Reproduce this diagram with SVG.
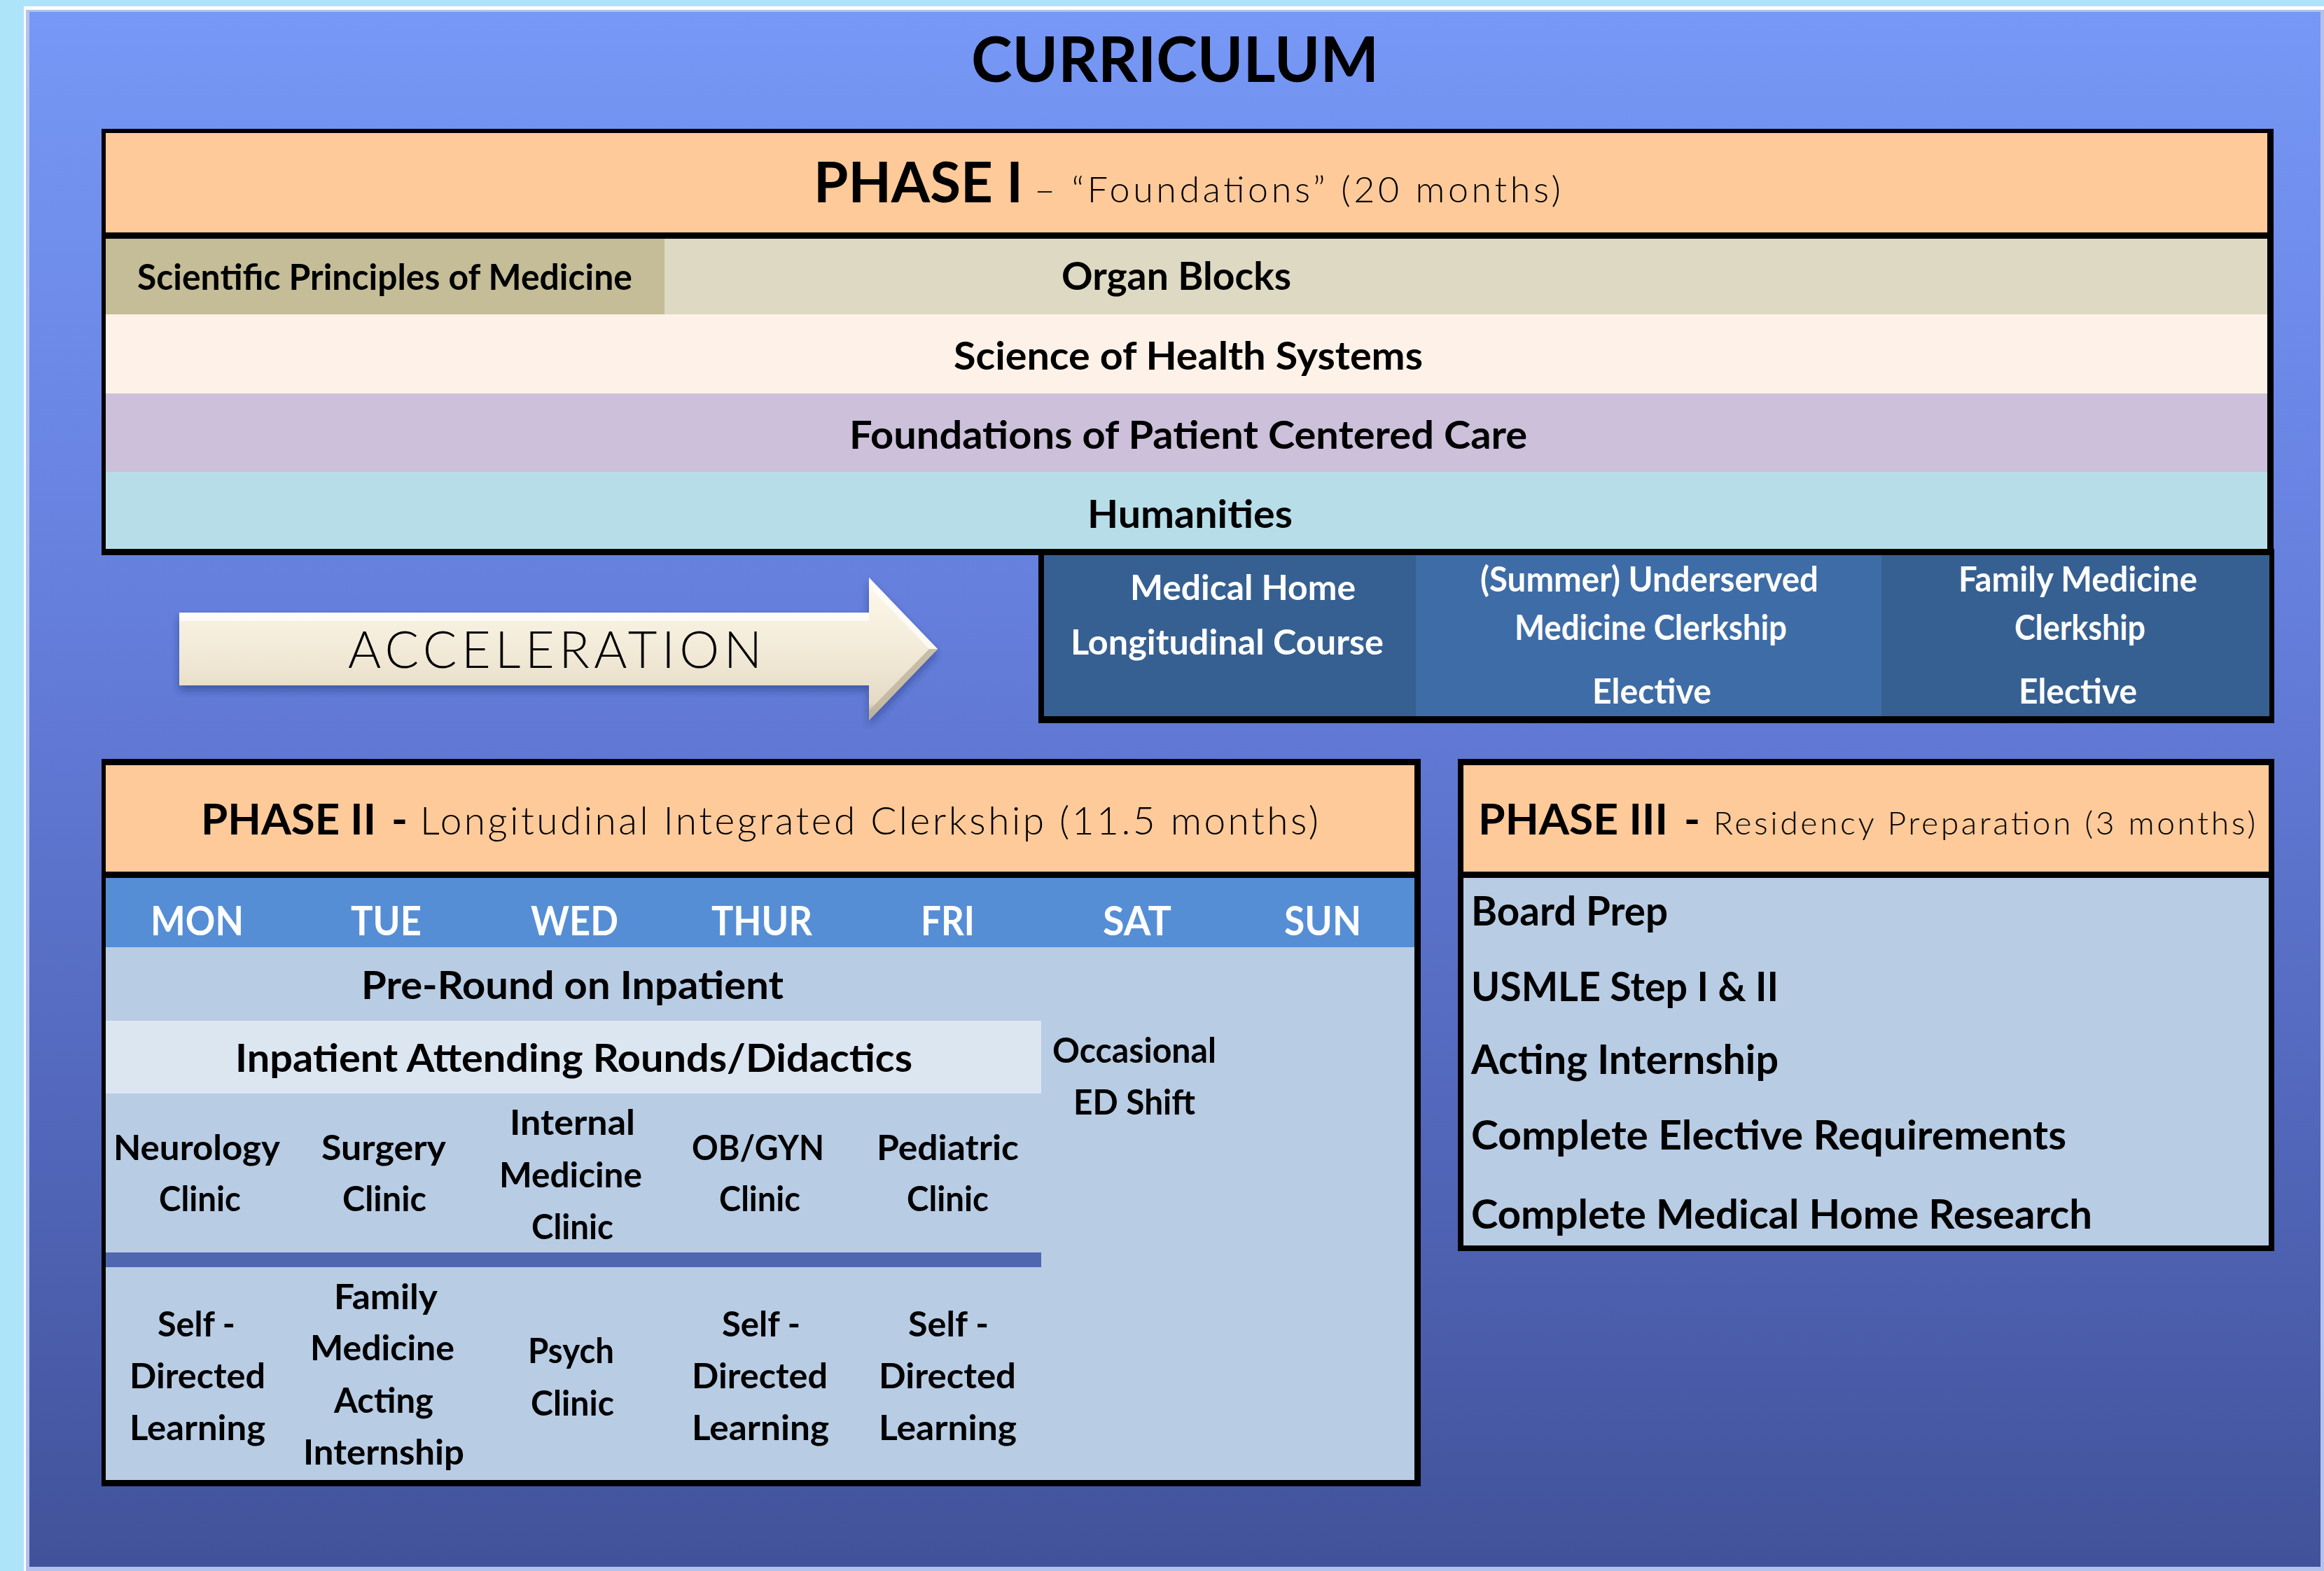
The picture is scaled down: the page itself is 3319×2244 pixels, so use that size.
<svg xmlns="http://www.w3.org/2000/svg" width="3319" height="2244" viewBox="0 0 3319 2244">
  <style>
    .b { font-family: Lato, "Open Sans", "DejaVu Sans", sans-serif; font-weight: 700; fill: #000; }
    .l { font-family: Lato, "Open Sans", "DejaVu Sans", sans-serif; font-weight: 300; fill: #000; }
    .w { fill: #FFFFFF; }
    .hdr { fill: #FFCA9A; }
    .body { fill: #B8CCE4; }
    .frame { fill: #000000; }
  </style>
  <defs>
    <linearGradient id="bgGrad" x1="0" y1="0" x2="0" y2="1">
      <stop offset="0" stop-color="#7798F6"/>
      <stop offset="0.35" stop-color="#6781DF"/>
      <stop offset="0.65" stop-color="#566CC2"/>
      <stop offset="1" stop-color="#42529A"/>
    </linearGradient>
    <linearGradient id="arrowGrad" x1="0" y1="0" x2="0" y2="1">
      <stop offset="0" stop-color="#FFFFFF"/>
      <stop offset="0.12" stop-color="#FCF6E8"/>
      <stop offset="0.55" stop-color="#F1E9D6"/>
      <stop offset="0.88" stop-color="#E4DAC5"/>
      <stop offset="1" stop-color="#A89F8A"/>
    </linearGradient>
    <filter id="shadow" x="-5%" y="-20%" width="115%" height="150%">
      <feDropShadow dx="0" dy="7" stdDeviation="6" flood-color="#1B2A66" flood-opacity="0.45"/>
    </filter>
  </defs>

  <!-- page backdrop and framed panel -->
  <rect x="0" y="0" width="3319" height="2244" fill="#ADE4FA"/>
  <rect x="34" y="9" width="3285" height="2235" fill="#FFFFFF"/>
  <rect x="37" y="14" width="3282" height="2230" fill="#B3C2EC"/>
  <rect x="42" y="17" width="3272" height="2221" fill="url(#bgGrad)"/>

  <g id="title">
    <text class="b" x="1387" y="117" font-size="89" textLength="582" lengthAdjust="spacingAndGlyphs">CURRICULUM</text>
  </g>

  <!-- Phase I block -->
  <g id="phase1">
    <rect class="frame" x="145" y="184" width="3102" height="609"/>
    <rect class="hdr" x="151" y="190" width="3087" height="142"/>
    <text class="b" x="1162" y="289" font-size="81" textLength="299" lengthAdjust="spacingAndGlyphs">PHASE I</text>
    <text class="l" x="1477" y="289" font-size="52" textLength="752" lengthAdjust="spacing">– “Foundations” (20 months)</text>
  </g>
  <g id="spm">
    <rect x="151" y="341" width="798" height="108" fill="#C4BD97"/>
    <text class="b" x="196" y="414" font-size="51" textLength="707" lengthAdjust="spacingAndGlyphs">Scientific Principles of Medicine</text>
  </g>
  <g id="organ-blocks">
    <rect x="949" y="341" width="2289" height="108" fill="#DDD9C3"/>
    <text class="b" x="1516" y="414" font-size="56" textLength="328" lengthAdjust="spacingAndGlyphs">Organ Blocks</text>
  </g>
  <g id="health-systems">
    <rect x="151" y="449" width="3087" height="113" fill="#FEF2E8"/>
    <text class="b" x="1362" y="528" font-size="56" textLength="670" lengthAdjust="spacingAndGlyphs">Science of Health Systems</text>
  </g>
  <g id="patient-care">
    <rect x="151" y="562" width="3087" height="112" fill="#CCC0DA"/>
    <text class="b" x="1213" y="641" font-size="56" textLength="968" lengthAdjust="spacingAndGlyphs">Foundations of Patient Centered Care</text>
  </g>
  <g id="humanities">
    <rect x="151" y="674" width="3087" height="110" fill="#B7DEE8"/>
    <text class="b" x="1553" y="754" font-size="56" textLength="293" lengthAdjust="spacingAndGlyphs">Humanities</text>
  </g>

  <!-- Acceleration track -->
  <g id="electives">
    <rect class="frame" x="1483" y="784" width="1765" height="249"/>
    <rect x="1491" y="793" width="531" height="230" fill="#376092"/>
    <rect x="2022" y="793" width="665" height="230" fill="#3E6CA6"/>
    <rect x="2687" y="793" width="554" height="230" fill="#376092"/>
    <text class="b w" x="1614" y="857" font-size="49" textLength="322" lengthAdjust="spacingAndGlyphs">Medical Home</text>
    <text class="b w" x="1529" y="935" font-size="49" textLength="447" lengthAdjust="spacingAndGlyphs">Longitudinal Course</text>
    <text class="b w" x="2114" y="845" font-size="49" textLength="483" lengthAdjust="spacingAndGlyphs">(Summer) Underserved</text>
    <text class="b w" x="2163" y="914" font-size="49" textLength="389" lengthAdjust="spacingAndGlyphs">Medicine Clerkship</text>
    <text class="b w" x="2274" y="1005" font-size="49" textLength="170" lengthAdjust="spacingAndGlyphs">Elective</text>
    <text class="b w" x="2797" y="845" font-size="49" textLength="341" lengthAdjust="spacingAndGlyphs">Family Medicine</text>
    <text class="b w" x="2877" y="914" font-size="49" textLength="187" lengthAdjust="spacingAndGlyphs">Clerkship</text>
    <text class="b w" x="2883" y="1005" font-size="49" textLength="169" lengthAdjust="spacingAndGlyphs">Elective</text>
  </g>

  <g id="acceleration">
    <path d="M256,875 H1241 V825 L1339,927 L1241,1029 V979 H256 Z" fill="url(#arrowGrad)" filter="url(#shadow)"/>
    <path d="M256,875 H1241 V887 H256 Z" fill="#FFFFFF" opacity="0.8"/>
    <path d="M1241,825 L1339,927 L1327,927 L1249,846 Z" fill="#FFFFFF" opacity="0.7"/>
    <path d="M1339,927 L1241,1029 L1241,1015 L1327,927 Z" fill="#BDB39C" opacity="0.8"/>
    <text class="l" x="497" y="954" font-size="72" textLength="591" lengthAdjust="spacing">ACCELERATION</text>
  </g>

  <!-- Phase II block -->
  <g id="phase2">
    <rect class="frame" x="145" y="1084" width="1884" height="1039"/>
    <rect class="hdr" x="151" y="1093" width="1869" height="152"/>
    <rect x="151" y="1254" width="1869" height="99" fill="#558ED5"/>
    <rect class="body" x="151" y="1353" width="1869" height="761"/>
    <text class="b" x="287" y="1192" font-size="62" textLength="250" lengthAdjust="spacingAndGlyphs">PHASE II</text>
    <text class="b" x="559" y="1192" font-size="62">-</text>
    <text class="l" x="600" y="1192" font-size="55" textLength="1283" lengthAdjust="spacing">Longitudinal Integrated Clerkship (11.5 months)</text>
  </g>
  <g id="weekdays">
    <text class="b w" x="215" y="1336" font-size="58" textLength="133" lengthAdjust="spacingAndGlyphs">MON</text>
    <text class="b w" x="501" y="1336" font-size="58" textLength="101" lengthAdjust="spacingAndGlyphs">TUE</text>
    <text class="b w" x="758" y="1336" font-size="58" textLength="125" lengthAdjust="spacingAndGlyphs">WED</text>
    <text class="b w" x="1016" y="1336" font-size="58" textLength="144" lengthAdjust="spacingAndGlyphs">THUR</text>
    <text class="b w" x="1315" y="1336" font-size="58" textLength="77" lengthAdjust="spacingAndGlyphs">FRI</text>
    <text class="b w" x="1575" y="1336" font-size="58" textLength="98" lengthAdjust="spacingAndGlyphs">SAT</text>
    <text class="b w" x="1834" y="1336" font-size="58" textLength="110" lengthAdjust="spacingAndGlyphs">SUN</text>
  </g>
  <g id="pre-round">
    <text class="b" x="516" y="1427" font-size="56" textLength="603" lengthAdjust="spacingAndGlyphs">Pre-Round on Inpatient</text>
  </g>
  <g id="attending-rounds">
    <rect x="151" y="1458" width="1336" height="104" fill="#DCE6F1"/>
    <text class="b" x="336" y="1531" font-size="56" textLength="967" lengthAdjust="spacingAndGlyphs">Inpatient Attending Rounds/Didactics</text>
  </g>
  <g id="ed-shift">
    <text class="b" x="1503" y="1518" font-size="50" textLength="234" lengthAdjust="spacingAndGlyphs">Occasional</text>
    <text class="b" x="1533" y="1592" font-size="50" textLength="174" lengthAdjust="spacingAndGlyphs">ED Shift</text>
  </g>
  <g id="clinics">
    <text class="b" x="162" y="1657" font-size="50" textLength="238" lengthAdjust="spacingAndGlyphs">Neurology</text>
    <text class="b" x="227" y="1730" font-size="50" textLength="117" lengthAdjust="spacingAndGlyphs">Clinic</text>
    <text class="b" x="459" y="1657" font-size="50" textLength="178" lengthAdjust="spacingAndGlyphs">Surgery</text>
    <text class="b" x="489" y="1730" font-size="50" textLength="120" lengthAdjust="spacingAndGlyphs">Clinic</text>
    <text class="b" x="728" y="1621" font-size="50" textLength="179" lengthAdjust="spacingAndGlyphs">Internal</text>
    <text class="b" x="713" y="1696" font-size="50" textLength="204" lengthAdjust="spacingAndGlyphs">Medicine</text>
    <text class="b" x="759" y="1770" font-size="50" textLength="117" lengthAdjust="spacingAndGlyphs">Clinic</text>
    <text class="b" x="988" y="1657" font-size="50" textLength="189" lengthAdjust="spacingAndGlyphs">OB/GYN</text>
    <text class="b" x="1027" y="1730" font-size="50" textLength="116" lengthAdjust="spacingAndGlyphs">Clinic</text>
    <text class="b" x="1252" y="1657" font-size="50" textLength="203" lengthAdjust="spacingAndGlyphs">Pediatric</text>
    <text class="b" x="1295" y="1730" font-size="50" textLength="117" lengthAdjust="spacingAndGlyphs">Clinic</text>
  </g>
  <rect id="week-divider" x="151" y="1789" width="1336" height="21" fill="#4F66B0"/>
  <g id="second-half-week">
    <text class="b" x="225" y="1909" font-size="50" textLength="111" lengthAdjust="spacingAndGlyphs">Self -</text>
    <text class="b" x="185" y="1983" font-size="50" textLength="194" lengthAdjust="spacingAndGlyphs">Directed</text>
    <text class="b" x="185" y="2057" font-size="50" textLength="194" lengthAdjust="spacingAndGlyphs">Learning</text>
    <text class="b" x="477" y="1870" font-size="50" textLength="148" lengthAdjust="spacingAndGlyphs">Family</text>
    <text class="b" x="443" y="1943" font-size="50" textLength="206" lengthAdjust="spacingAndGlyphs">Medicine</text>
    <text class="b" x="477" y="2018" font-size="50" textLength="142" lengthAdjust="spacingAndGlyphs">Acting</text>
    <text class="b" x="433" y="2092" font-size="50" textLength="230" lengthAdjust="spacingAndGlyphs">Internship</text>
    <text class="b" x="754" y="1947" font-size="50" textLength="123" lengthAdjust="spacingAndGlyphs">Psych</text>
    <text class="b" x="758" y="2022" font-size="50" textLength="119" lengthAdjust="spacingAndGlyphs">Clinic</text>
    <text class="b" x="1031" y="1909" font-size="50" textLength="112" lengthAdjust="spacingAndGlyphs">Self -</text>
    <text class="b" x="988" y="1983" font-size="50" textLength="194" lengthAdjust="spacingAndGlyphs">Directed</text>
    <text class="b" x="988" y="2057" font-size="50" textLength="196" lengthAdjust="spacingAndGlyphs">Learning</text>
    <text class="b" x="1297" y="1909" font-size="50" textLength="115" lengthAdjust="spacingAndGlyphs">Self -</text>
    <text class="b" x="1255" y="1983" font-size="50" textLength="196" lengthAdjust="spacingAndGlyphs">Directed</text>
    <text class="b" x="1255" y="2057" font-size="50" textLength="197" lengthAdjust="spacingAndGlyphs">Learning</text>
  </g>

  <!-- Phase III block -->
  <g id="phase3">
    <rect class="frame" x="2082" y="1084" width="1166" height="703"/>
    <rect class="hdr" x="2090" y="1093" width="1150" height="152"/>
    <rect class="body" x="2090" y="1254" width="1150" height="525"/>
    <text class="b" x="2111" y="1192" font-size="62" textLength="271" lengthAdjust="spacingAndGlyphs">PHASE III</text>
    <text class="b" x="2405" y="1192" font-size="62">-</text>
    <text class="l" x="2447" y="1192" font-size="46" textLength="774" lengthAdjust="spacing">Residency Preparation (3 months)</text>
    <text class="b" x="2101" y="1322" font-size="58" textLength="281" lengthAdjust="spacingAndGlyphs">Board Prep</text>
    <text class="b" x="2101" y="1430" font-size="58" textLength="439" lengthAdjust="spacingAndGlyphs">USMLE Step I &amp; II</text>
    <text class="b" x="2101" y="1534" font-size="58" textLength="439" lengthAdjust="spacingAndGlyphs">Acting Internship</text>
    <text class="b" x="2101" y="1642" font-size="58" textLength="850" lengthAdjust="spacingAndGlyphs">Complete Elective Requirements</text>
    <text class="b" x="2101" y="1755" font-size="58" textLength="887" lengthAdjust="spacingAndGlyphs">Complete Medical Home Research</text>
  </g>

  <g id="connectors"/>
</svg>
